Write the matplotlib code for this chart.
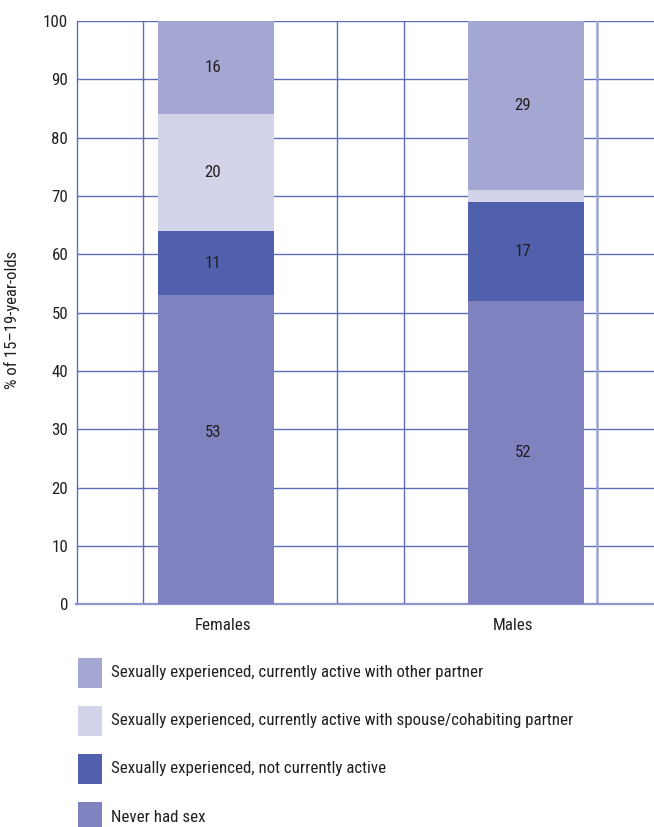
import matplotlib
matplotlib.use("Agg")
import matplotlib.pyplot as plt
from matplotlib import font_manager as fm
from matplotlib.patches import Rectangle

# Pick a narrow sans face if one is installed
preferred = ["Roboto Condensed", "Liberation Sans Narrow", "Open Sans Condensed",
             "DejaVu Sans Condensed", "Noto Sans Condensed", "Arial Narrow"]
installed = {f.name for f in fm.fontManager.ttflist}
font_family, font_stretch, condensed = None, "normal", False
for name in preferred:
    if name in installed:
        font_family, condensed = name, True
        break
if font_family is None:
    for f in fm.fontManager.ttflist:
        if f.name in ("Noto Sans", "Roboto", "Open Sans", "DejaVu Sans") and \
                str(f.stretch) in ("condensed", "semi-condensed", "500", "375") and f.style == "normal":
            font_family, font_stretch, condensed = f.name, f.stretch, True
            break
if font_family is None:
    font_family = "Liberation Sans"

plt.rcParams['font.family'] = [font_family, 'DejaVu Sans']
plt.rcParams['font.stretch'] = font_stretch
base_size = 12.2 if condensed else 10.5

# Data
groups = ["Females", "Males"]
never_had_sex = [53, 52]
not_currently_active = [11, 17]
active_spouse = [20, 2]
active_other = [16, 29]

series_labels = [
    "Never had sex",
    "Sexually experienced, not currently active",
    "Sexually experienced, currently active with spouse/cohabiting partner",
    "Sexually experienced, currently active with other partner",
]
series_values = [never_had_sex, not_currently_active, active_spouse, active_other]
series_colors = ["#7f82bf", "#5160ac", "#d3d4ea", "#a5a7d3"]

yticks = [0, 10, 20, 30, 40, 50, 60, 70, 80, 90, 100]

text_color = "#231f20"
grid_color = "#5f6cb6"

W, H = 654, 827
fig = plt.figure(figsize=(W / 100, H / 100), dpi=100)
ax = fig.add_axes([76.5 / W, 1 - 604.3 / H, 1 - 76.5 / W, 583.3 / H])

x = [0, 1]
bar_width = 0.374
# the large female base segment carries its label a little above centre
label_shift = {(0, 0): 3.0}
bottoms = [0, 0]
for si, (vals, color, label) in enumerate(zip(series_values, series_colors, series_labels)):
    ax.bar(x, vals, bottom=bottoms, width=bar_width, color=color,
           edgecolor="none", label=label, zorder=3)
    for gi, (xi, v, b) in enumerate(zip(x, vals, bottoms)):
        if v >= 5:
            ax.text(xi - 0.01, b + v / 2 + label_shift.get((si, gi), 0), f"{v}",
                    ha="center", va="center", fontsize=base_size,
                    color=text_color, zorder=4)
    bottoms = [b + v for b, v in zip(bottoms, vals)]

ax.set_xlim(-0.45, 1.413)
ax.set_ylim(0, 100)

# Grid
for yv in yticks[1:]:
    ax.axhline(yv, color=grid_color, lw=1.0, zorder=1)
for xv in [-0.234, 0.390, 0.606]:
    ax.axvline(xv, color=grid_color, lw=1.0, zorder=1)
ax.axvline(1.229, color="#9ca2d4", lw=1.8, zorder=1)

for side in ["top", "right"]:
    ax.spines[side].set_visible(False)
ax.spines["left"].set_color(grid_color)
ax.spines["left"].set_linewidth(1.0)
ax.spines["bottom"].set_color("#8f95cc")
ax.spines["bottom"].set_linewidth(1.6)

ax.set_yticks(yticks)
ax.set_yticklabels([str(t) for t in yticks], fontsize=base_size, color=text_color)
ax.set_xticks([0.023, 0.958])
ax.set_xticklabels(groups, fontsize=base_size, color=text_color)
ax.tick_params(axis="both", length=0)
ax.tick_params(axis="y", pad=6)
ax.tick_params(axis="x", pad=10)

ax.set_ylabel("% of 15\u201319-year-olds", fontsize=base_size - 0.2, color=text_color)
ax.yaxis.set_label_coords((20 - 76.5) / 577.5, (604.3 - 320) / 583.3)

# Legend, drawn as swatches and labels, top entry first
row_tops = [658, 706, 754, 802]
for top, color, label in zip(row_tops, series_colors[::-1], series_labels[::-1]):
    fig.patches.append(Rectangle((77.7 / W, 1 - (top + 30) / H), 24.6 / W, 30 / H,
                                 transform=fig.transFigure, facecolor=color,
                                 edgecolor="none"))
    fig.text(110.7 / W, 1 - (top + 15) / H, label, ha="left", va="center",
             fontsize=base_size, color=text_color)

fig.savefig("out.png", dpi=100)
